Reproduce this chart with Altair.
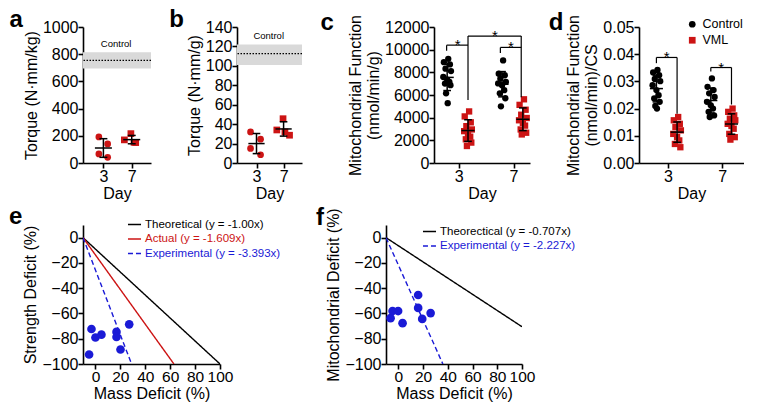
import altair as alt
import pandas as pd

FONT = "Liberation Sans"
RED = "#cc1414"
BLUE = "#1a1ad6"
DAY_LABELS = ["3", "7"]

# ---------------- panel a : Torque (N·mm/kg), VML ----------------
a_vml_day3 = [192, 140, 67, 42]
a_vml_day7 = [216, 170, 152, 150]
a_jit_day3 = [-0.16, 0.15, -0.16, 0.15]
a_jit_day7 = [-0.03, -0.26, 0.08, 0.14]
a_control_band = [695, 815]
a_control_mean = 755

# ---------------- panel b : Torque (N·mm/g), VML ----------------
b_vml_day3 = [32, 24.5, 15, 8.5]
b_vml_day7 = [45.6, 34, 32, 28.6]
b_jit_day3 = [-0.22, 0.15, -0.22, 0.15]
b_jit_day7 = [-0.02, -0.25, 0.05, 0.22]
b_control_band = [101, 122]
b_control_mean = 112.5

# ---------------- panel c : Mitochondrial function (nmol/min/g) ----------------
c_ctrl_day3 = [9190, 8900, 8700, 8320, 8110, 7590, 7360, 7160, 7010, 6870, 6150, 5280]
c_vml_day3 = [4550, 4110, 3590, 3250, 2960, 2810, 2520, 2320, 2090, 1800, 1500]
c_ctrl_day7 = [9050, 7880, 7740, 7450, 7160, 7020, 6870, 6430, 6150, 5710, 5000]
c_vml_day7 = [5620, 5130, 4700, 4260, 3970, 3770, 3540, 3300, 2960, 2670, 2520]
# significance brackets: x1, y1, x2, y2 (day index units)
c_br_x1 = [-0.22, -0.22, 0.17, 0.17, 1.14, 0.76, 0.76]
c_br_y1 = [9900, 10400, 5560, 11200, 5800, 9700, 10200]
c_br_x2 = [-0.22, 0.17, 0.17, 1.14, 1.14, 0.76, 1.14]
c_br_y2 = [10400, 10400, 11200, 11200, 11200, 10200, 10200]
c_star_x = [-0.02, 0.66, 0.95]
c_star_y = [10400, 11200, 10200]

# ---------------- panel d : Mitochondrial function / CS ----------------
d_ctrl_day3 = [0.0342, 0.0333, 0.0323, 0.0309, 0.0301, 0.0286, 0.0268, 0.0249, 0.0237, 0.0225, 0.0210, 0.0200]
d_vml_day3 = [0.0169, 0.0157, 0.0144, 0.0132, 0.0120, 0.0107, 0.0095, 0.0083, 0.0070, 0.0058]
d_ctrl_day7 = [0.0311, 0.0280, 0.0268, 0.0256, 0.0243, 0.0225, 0.0212, 0.0200, 0.0188, 0.0175, 0.0169]
d_vml_day7 = [0.0200, 0.0188, 0.0175, 0.0163, 0.0157, 0.0144, 0.0136, 0.0126, 0.0107, 0.0095, 0.0086]
d_br_x1 = [-0.21, -0.21, 0.17, 0.79, 0.79, 1.17]
d_br_y1 = [0.0367, 0.0388, 0.0181, 0.0336, 0.0351, 0.0215]
d_br_x2 = [-0.21, 0.17, 0.17, 0.79, 1.17, 1.17]
d_br_y2 = [0.0388, 0.0388, 0.0388, 0.0351, 0.0351, 0.0351]
d_star_x = [-0.02, 0.98]
d_star_y = [0.0388, 0.0351]

# horizontal scatter of points inside each group
group_jitter = [0.02, -0.06, 0.05, -0.03, 0.07, -0.07, 0.0, 0.04, -0.04, 0.06, -0.02, 0.01]
GROUPS = ["Control", "VML"]

# ---------------- panel e ----------------
e_mass = [-3.2, 0.0, 4.8, 16.9, 16.9, 20.1, 27.1, -5.1]
e_strength = [-72.3, -79.0, -76.8, -74.6, -78.6, -88.5, -68.6, -92.5]
e_line_names = ["Theoretical (y = -1.00x)", "Actual (y = -1.609x)", "Experimental (y = -3.393x)"]
e_line_end_x = [100, 63, 29]
e_line_end_y = [-100, -100, -100]

# ---------------- panel f ----------------
f_mass = [-6.3, -4.7, -0.2, 3.4, 16.0, 16.0, 19.3, 26.1]
f_mito = [-63.7, -58.1, -58.1, -67.7, -45.4, -55.6, -64.3, -59.7]
f_line_names = ["Theorectical (y = -0.707x)", "Experimental (y = -2.227x)"]
f_line_end_x = [100, 36]
f_line_end_y = [-70.5, -100]

LINE_START = (-10, 0)


def letter_title(t, dx, offset):
    return alt.TitleParams(text=t, anchor="start", frame="bounds", fontSize=24,
                           fontWeight="bold", font=FONT, color="black", dx=dx, offset=offset)


def day_axis():
    return alt.Axis(values=[0, 1], labelExpr="datum.value == 0 ? '3' : '7'",
                    title="Day", grid=False, labelFlush=False)


def stats_layers(base, xfield, half_mean, half_cap):
    return (base.transform_aggregate(m="mean(val)", s="stdev(val)", groupby=[xfield])
            .transform_calculate(lo="datum.m - datum.s", hi="datum.m + datum.s",
                                 ml=f"datum.{xfield} - {half_mean}", mr=f"datum.{xfield} + {half_mean}",
                                 cl=f"datum.{xfield} - {half_cap}", cr=f"datum.{xfield} + {half_cap}"))


def torque_panel(letter, ytitle, d3, d7, j3, j7, band, cmean, ymax, ystep, W, H, tdx, toff):
    pts = pd.DataFrame({
        "day": [DAY_LABELS[0]] * len(d3) + [DAY_LABELS[1]] * len(d7),
        "pos": [0] * len(d3) + [1] * len(d7),
        "jit": j3 + j7,
        "val": d3 + d7,
    })
    pts["xp"] = pts["pos"] + pts["jit"]
    xs = alt.Scale(domain=[-0.72, 1.68], nice=False, zero=False)
    ys = alt.Scale(domain=[0, ymax], nice=False)
    ya = alt.Axis(values=list(range(0, ymax + 1, ystep)), title=ytitle, grid=False, format="d")
    xa = day_axis()
    band_df = pd.DataFrame({"lo": [band[0]], "hi": [band[1]], "m": [cmean], "txt": ["Control"], "tx": [0.45]})
    bandc = alt.Chart(band_df)
    rect = bandc.mark_rect(color="#d9d9d9").encode(y=alt.Y("lo:Q", scale=ys, axis=ya), y2="hi:Q")
    dot = bandc.mark_rule(color="black", strokeDash=[1.5, 1.5], strokeWidth=1.2).encode(
        y=alt.Y("m:Q", scale=ys, axis=ya))
    lab = bandc.mark_text(fontSize=9.5, font=FONT, color="black", baseline="bottom", dy=-3).encode(
        x=alt.X("tx:Q", scale=xs, axis=xa), y=alt.Y("hi:Q", scale=ys, axis=ya), text="txt:N")
    base = alt.Chart(pts)
    points = base.mark_point(filled=True, size=45, opacity=1, color=RED).encode(
        x=alt.X("xp:Q", scale=xs, axis=xa), y=alt.Y("val:Q", scale=ys, axis=ya),
        shape=alt.Shape("day:N", scale=alt.Scale(domain=DAY_LABELS, range=["circle", "square"]), legend=None))
    st = stats_layers(base, "pos", 0.3, 0.14)
    ebc = dict(color="black", strokeWidth=1.5)
    vline = st.mark_rule(**ebc).encode(x=alt.X("pos:Q", scale=xs, axis=xa), y=alt.Y("lo:Q", scale=ys, axis=ya), y2="hi:Q")
    mline = st.mark_rule(**ebc).encode(x=alt.X("ml:Q", scale=xs, axis=xa), x2="mr:Q", y=alt.Y("m:Q", scale=ys, axis=ya))
    cap1 = st.mark_rule(**ebc).encode(x=alt.X("cl:Q", scale=xs, axis=xa), x2="cr:Q", y=alt.Y("lo:Q", scale=ys, axis=ya))
    cap2 = st.mark_rule(**ebc).encode(x=alt.X("cl:Q", scale=xs, axis=xa), x2="cr:Q", y=alt.Y("hi:Q", scale=ys, axis=ya))
    return alt.layer(rect, dot, lab, points, vline, mline, cap1, cap2).properties(
        width=W, height=H, title=letter_title(letter, tdx, toff))


def mito_panel(letter, ytitle, c3, c7, v3, v7, ymax, ystep, fmt, xdom,
               bx1, by1, bx2, by2, sx, sy, show_legend, W, H, tdx, toff):
    rows = []
    for grp, day_i, vals in [("Control", 0, c3), ("VML", 0, v3), ("Control", 1, c7), ("VML", 1, v7)]:
        center = day_i + (-0.21 if grp == "Control" else 0.17)
        for k, v in enumerate(vals):
            rows.append({"grp": grp, "center": center, "xp": center + group_jitter[k], "val": v})
    pts = pd.DataFrame(rows)
    xs = alt.Scale(domain=xdom, nice=False, zero=False)
    ys = alt.Scale(domain=[0, ymax], nice=False)
    nt = int(round(ymax / ystep))
    ya = alt.Axis(values=[round(i * ystep, 6) for i in range(nt + 1)], title=ytitle, grid=False, format=fmt)
    xa = day_axis()
    if show_legend:
        leg = alt.Legend(title=None, orient="none", legendX=W - 58, legendY=-9, labelFontSize=12.5,
                         labelFont=FONT, symbolSize=45, padding=0, rowPadding=3, labelColor="black")
    else:
        leg = None
    base = alt.Chart(pts)
    points = base.mark_point(filled=True, size=40, opacity=1).encode(
        x=alt.X("xp:Q", scale=xs, axis=xa), y=alt.Y("val:Q", scale=ys, axis=ya),
        color=alt.Color("grp:N", scale=alt.Scale(domain=GROUPS, range=["black", RED]), legend=leg),
        shape=alt.Shape("grp:N", scale=alt.Scale(domain=GROUPS, range=["circle", "square"]), legend=leg))
    st = stats_layers(base, "center", 0.12, 0.07)
    ebc = dict(color="black", strokeWidth=1.5)
    vline = st.mark_rule(**ebc).encode(x=alt.X("center:Q", scale=xs, axis=xa), y=alt.Y("lo:Q", scale=ys, axis=ya), y2="hi:Q")
    mline = st.mark_rule(**ebc).encode(x=alt.X("ml:Q", scale=xs, axis=xa), x2="mr:Q", y=alt.Y("m:Q", scale=ys, axis=ya))
    cap1 = st.mark_rule(**ebc).encode(x=alt.X("cl:Q", scale=xs, axis=xa), x2="cr:Q", y=alt.Y("lo:Q", scale=ys, axis=ya))
    cap2 = st.mark_rule(**ebc).encode(x=alt.X("cl:Q", scale=xs, axis=xa), x2="cr:Q", y=alt.Y("hi:Q", scale=ys, axis=ya))
    br = alt.Chart(pd.DataFrame({"x1": bx1, "y1": by1, "x2": bx2, "y2": by2})).mark_rule(
        color="black", strokeWidth=1.2).encode(
        x=alt.X("x1:Q", scale=xs, axis=xa), y=alt.Y("y1:Q", scale=ys, axis=ya), x2="x2:Q", y2="y2:Q")
    stars = alt.Chart(pd.DataFrame({"x": sx, "y": sy, "s": ["*"] * len(sx)})).mark_text(
        fontSize=15, font=FONT, color="black", baseline="alphabetic", dy=5).encode(
        x=alt.X("x:Q", scale=xs, axis=xa), y=alt.Y("y:Q", scale=ys, axis=ya), text="s:N")
    return alt.layer(points, vline, mline, cap1, cap2, br, stars).properties(
        width=W, height=H, title=letter_title(letter, tdx, toff))


def deficit_panel(letter, ytitle, mass, deficit, names, ex, ey, colors, dashes, lx, ly, W, H, tdx, toff):
    xs = alt.Scale(domain=[-10, 100], nice=False, zero=False)
    ys = alt.Scale(domain=[-100, 10], nice=False, zero=False)
    xa = alt.Axis(values=list(range(0, 101, 20)), title="Mass Deficit (%)", grid=False, labelOverlap=False,
                  labelFlush=False, labelFontSize=15.5)
    ya = alt.Axis(values=list(range(-100, 1, 20)), title=ytitle, grid=False, labelOverlap=False)
    lrows = []
    for i, n in enumerate(names):
        lrows.append({"name": n, "x": LINE_START[0], "y": LINE_START[1], "k": 0})
        lrows.append({"name": n, "x": ex[i], "y": ey[i], "k": 1})
    ldf = pd.DataFrame(lrows)
    cond = "'black'"
    for n, c in zip(names, colors):
        cond = f"datum.label == '{n}' ? '{c}' : ({cond})"
    leg = alt.Legend(title=None, orient="none", legendX=lx, legendY=ly, labelFontSize=11.5, labelFont=FONT,
                     symbolSize=170, symbolStrokeWidth=1.5, padding=0, rowPadding=1.5, labelLimit=400,
                     labelColor=alt.ExprRef(expr=cond), symbolType="stroke", labelOffset=3)
    lines = alt.Chart(ldf).mark_line(strokeWidth=1.4, clip=True).encode(
        x=alt.X("x:Q", scale=xs, axis=xa), y=alt.Y("y:Q", scale=ys, axis=ya), order="k:Q",
        color=alt.Color("name:N", scale=alt.Scale(domain=names, range=colors), legend=leg, sort=names),
        strokeDash=alt.StrokeDash("name:N", scale=alt.Scale(domain=names, range=dashes), legend=leg, sort=names))
    pts = alt.Chart(pd.DataFrame({"m": mass, "d": deficit})).mark_circle(size=75, color=BLUE, opacity=1).encode(
        x=alt.X("m:Q", scale=xs, axis=xa), y=alt.Y("d:Q", scale=ys, axis=ya))
    return alt.layer(lines, pts).properties(width=W, height=H, title=letter_title(letter, tdx, toff))


H_TOP = 136
H_BOT = 139

pa = torque_panel("a", "Torque (N·mm/kg)", a_vml_day3, a_vml_day7, a_jit_day3, a_jit_day7,
                  a_control_band, a_control_mean, 1000, 200, 68, H_TOP, -14, -13)
pb = torque_panel("b", "Torque (N·mm/g)", b_vml_day3, b_vml_day7, b_jit_day3, b_jit_day7,
                  b_control_band, b_control_mean, 140, 20, 65, H_TOP, -17, -13)
pc = mito_panel("c", ["Mitochondrial Function", "(nmol/min/g)"], c_ctrl_day3, c_ctrl_day7, c_vml_day3, c_vml_day7,
                12000, 2000, "d", [-0.45, 1.30], c_br_x1, c_br_y1, c_br_x2, c_br_y2, c_star_x, c_star_y,
                False, 96, H_TOP, -27, -20)
pd_ = mito_panel("d", ["Mitochondrial Function", "(nmol/min)/CS"], d_ctrl_day3, d_ctrl_day7, d_vml_day3, d_vml_day7,
                 0.05, 0.01, ".2f", [-0.53, 1.40], d_br_x1, d_br_y1, d_br_x2, d_br_y2, d_star_x, d_star_y,
                 True, 105, H_TOP, -17, -20)
pe = deficit_panel("e", "Strength Deficit (%)", e_mass, e_strength, e_line_names, e_line_end_x, e_line_end_y,
                   ["black", RED, BLUE], [[1, 0], [1, 0], [5, 3]], 44, -8, 137, H_BOT, -14, -12)
pf = deficit_panel("f", "Mitochondrial Deficit (%)", f_mass, f_mito, f_line_names, f_line_end_x, f_line_end_y,
                   ["black", BLUE], [[1, 0], [5, 3]], 36, -1, 136, H_BOT, -10, -22)

res = dict(color="independent", shape="independent", strokeDash="independent")
top = alt.hconcat(pa, pb, pc, pd_, spacing=17).resolve_scale(**res).resolve_legend(**res)
bottom = alt.hconcat(pe, pf, spacing=34).resolve_scale(**res).resolve_legend(**res)

chart = alt.vconcat(top, bottom, spacing=4).resolve_scale(**res).resolve_legend(**res).configure_axis(
    domainColor="black", domainWidth=1.6, tickColor="black", tickWidth=1.6, tickSize=5,
    labelColor="black", titleColor="black", labelFont=FONT, titleFont=FONT,
    labelFontSize=16, titleFontSize=16, titleFontWeight="normal", grid=False, labelPadding=0,
    titlePadding=3, titleLimit=400).configure_axisX(titlePadding=1).configure_view(stroke=None).properties(padding=0)

chart.save("out.html", embed_options={"renderer": "svg", "actions": False})
